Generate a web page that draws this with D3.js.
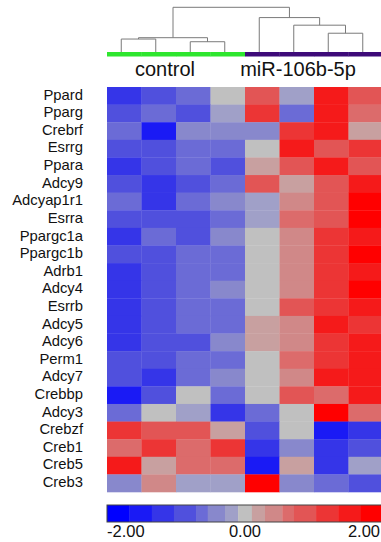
<!DOCTYPE html>
<html>
<head>
<meta charset="utf-8">
<script src="https://cdn.jsdelivr.net/npm/d3@7"></script>
<style>
    body { margin: 0; background: #fff; }
    text { font-family: "Liberation Sans", Arial, sans-serif; fill: #111; }
</style>
</head>
<body>
<svg id="heatmap"></svg>
<script>
// genes (rows, top to bottom)
var genes = ["Ppard", "Pparg", "Crebrf", "Esrrg", "Ppara", "Adcy9", "Adcyap1r1", "Esrra",
    "Ppargc1a", "Ppargc1b", "Adrb1", "Adcy4", "Esrrb", "Adcy5", "Adcy6", "Perm1",
    "Adcy7", "Crebbp", "Adcy3", "Crebzf", "Creb1", "Creb5", "Creb3"];

// samples (columns) and their group
var samples = ["C1", "C2", "C3", "C4", "M1", "M2", "M3", "M4"];
var sampleGroups = ["control", "control", "control", "control",
    "miR-106b-5p", "miR-106b-5p", "miR-106b-5p", "miR-106b-5p"];
var groupNames = ["control", "miR-106b-5p"];
var groupColors = ["#2ee62e", "#3d0a78"];

// row-normalised expression, one array per gene
var values = [
    [-1.2, -0.9, -0.6, 0.0, 0.85, -0.2, 1.5, 0.9],
    [-0.85, -0.6, -0.9, -0.2, 1.2, -0.65, 1.55, 0.6],
    [-0.6, -1.55, -0.4, -0.42, -0.45, 1.2, 1.5, 0.2],
    [-0.9, -0.85, -0.6, -0.62, 0.0, 1.5, 0.85, 1.2],
    [-1.2, -0.9, -0.6, -0.85, 0.2, 0.9, 1.5, 0.85],
    [-0.85, -1.2, -0.9, -0.6, 0.9, 0.2, 0.85, 1.5],
    [-0.6, -1.2, -0.65, -0.4, -0.2, 0.4, 0.85, 2.1],
    [-0.9, -0.85, -0.9, -0.6, -0.2, 0.6, 0.9, 2.1],
    [-1.2, -0.6, -0.9, -0.42, 0.0, 0.42, 1.2, 1.5],
    [-0.9, -0.85, -0.6, -0.62, 0.0, 0.4, 1.2, 2.1],
    [-1.2, -0.9, -0.6, -0.6, 0.0, 0.42, 1.2, 1.5],
    [-1.2, -0.85, -0.6, -0.4, 0.0, 0.45, 1.2, 2.1],
    [-1.2, -0.9, -0.6, -0.6, 0.0, 0.85, 1.2, 1.5],
    [-1.2, -0.9, -0.6, -0.6, 0.2, 0.42, 1.5, 1.2],
    [-1.2, -0.9, -0.85, -0.42, 0.2, 0.4, 1.2, 1.5],
    [-0.9, -0.85, -0.6, -0.62, 0.0, 0.6, 1.2, 1.5],
    [-0.85, -1.2, -0.6, -0.4, 0.0, 0.42, 1.5, 1.5],
    [-1.55, -0.9, 0.0, -0.6, 0.0, 0.9, 0.6, 1.5],
    [-0.6, 0.0, -0.2, -1.2, -0.62, 0.0, 2.1, 0.6],
    [1.2, 0.9, 0.85, 0.2, -0.9, 0.0, -1.55, -1.2],
    [0.6, 1.2, 0.62, 1.2, -1.2, -0.42, -1.2, -0.9],
    [1.5, 0.2, 0.6, 0.62, -1.55, 0.2, -1.2, -0.2],
    [-0.42, 0.42, -0.2, -0.2, 2.1, -0.42, -0.6, -0.9]
];

// colour bins of the legend
var binEdges = [-2, -1.68, -1.35, -1.03, -0.71, -0.54, -0.29, -0.1,
    0.1, 0.29, 0.54, 0.71, 1.03, 1.35, 1.68, 2];
var binColors = ["#0000ff", "#1a1af5", "#3535e8", "#5050dd", "#6b6bd6", "#8888cc", "#a0a0c8",
    "#c0c0c0", "#c8a0a0", "#d08888", "#dc6b6b", "#e25555", "#ec3535", "#f51a1a", "#ff0000"];
var legendTicks = [-2, 0, 2];
var legendLabels = ["-2.00", "0.00", "2.00"];

// column dendrogram (heights in distance units)
var tree = {h: 1.0, children: [
    {h: 0.32, children: [
        {h: 0.29, children: [{leaf: "C1"}, {leaf: "C2"}]},
        {h: 0.23, children: [{leaf: "C3"}, {leaf: "C4"}]}
    ]},
    {h: 0.77, children: [
        {leaf: "M1"},
        {h: 0.6, children: [
            {leaf: "M2"},
            {h: 0.42, children: [{leaf: "M3"}, {leaf: "M4"}]}
        ]}
    ]}
]};

var width = 381, height = 542;
var hm = {left: 107, right: 383, top: 87, bottom: 492};

var svg = d3.select("#heatmap")
    .attr("width", width)
    .attr("height", height);

var x = d3.scaleBand()
    .domain(samples)
    .range([hm.left, hm.right]);

var y = d3.scaleBand()
    .domain(genes)
    .range([hm.top, hm.bottom]);

var color = d3.scaleThreshold()
    .domain(binEdges.slice(1, -1))
    .range(binColors);

// cells
var cells = [];
values.forEach(function(row, i) {
    row.forEach(function(v, j) {
        cells.push({gene: genes[i], sample: samples[j], value: v});
    });
});

svg.append("g")
    .selectAll("rect")
    .data(cells)
    .join("rect")
    .attr("x", d => x(d.sample))
    .attr("y", d => y(d.gene))
    .attr("width", x.bandwidth() + 0.3)
    .attr("height", y.bandwidth() + 0.3)
    .attr("fill", d => color(d.value));

// row labels
svg.append("g")
    .selectAll("text")
    .data(genes)
    .join("text")
    .attr("x", 83)
    .attr("y", d => y(d) + y.bandwidth() / 2)
    .attr("dy", "0.26em")
    .attr("text-anchor", "end")
    .style("font-size", "14.8px")
    .text(d => d);

// group colour bar
var barTop = 52, barH = 4.5;
svg.append("g")
    .selectAll("rect")
    .data(samples)
    .join("rect")
    .attr("x", d => x(d))
    .attr("y", barTop)
    .attr("width", x.bandwidth() + 0.3)
    .attr("height", barH)
    .attr("fill", (d, i) => groupColors[groupNames.indexOf(sampleGroups[i])]);

// group labels
var groupLabelX = groupNames.map(function(g) {
    var cols = samples.filter((s, i) => sampleGroups[i] == g);
    return (x(cols[0]) + x(cols[cols.length - 1]) + x.bandwidth()) / 2 - 11;
});
svg.append("g")
    .selectAll("text")
    .data(groupNames)
    .join("text")
    .attr("x", (d, i) => groupLabelX[i] - (i == 1 ? 5 : 0))
    .attr("y", 76)
    .attr("text-anchor", "middle")
    .style("font-size", "20px")
    .text(d => d);

// dendrogram
var root = d3.hierarchy(tree);
var hY = d3.scaleLinear()
    .domain([0, 1])
    .range([barTop, 7.3]);

root.eachAfter(function(n) {
    if (n.data.leaf) {
        n.px = x(n.data.leaf) + x.bandwidth() / 2 - 3;
        n.py = barTop;
    } else {
        n.px = d3.mean(n.children, c => c.px);
        n.py = hY(n.data.h);
    }
});

var dendro = svg.append("g")
    .attr("fill", "none")
    .attr("stroke", "#7a7a7a")
    .attr("stroke-width", 1);

root.descendants().filter(n => n.children).forEach(function(n) {
    var path = d3.path();
    var a = n.children[0], b = n.children[1];
    path.moveTo(a.px, a.py);
    path.lineTo(a.px, n.py);
    path.lineTo(b.px, n.py);
    path.lineTo(b.px, b.py);
    dendro.append("path").attr("d", path.toString());
});

// legend
var lx = d3.scaleLinear()
    .domain([-2, 2])
    .range([hm.left, hm.right]);
var legTop = 505, legH = 17;

var legend = svg.append("g");
legend.selectAll("rect")
    .data(binColors)
    .join("rect")
    .attr("x", (d, i) => lx(binEdges[i]))
    .attr("y", legTop)
    .attr("width", (d, i) => lx(binEdges[i + 1]) - lx(binEdges[i]) + 0.3)
    .attr("height", legH)
    .attr("fill", d => d);

legend.append("rect")
    .attr("x", lx(-2))
    .attr("y", legTop)
    .attr("width", lx(2) - lx(-2))
    .attr("height", legH)
    .attr("fill", "none")
    .attr("stroke", "#444")
    .attr("stroke-width", 1);

legend.selectAll("text")
    .data(legendTicks)
    .join("text")
    .attr("x", (d, i) => lx(d) + (i == 2 ? -3 : 0))
    .attr("y", 537)
    .attr("text-anchor", (d, i) => ["start", "middle", "end"][i])
    .style("font-size", "16.5px")
    .text((d, i) => legendLabels[i]);
</script>
</body>
</html>
